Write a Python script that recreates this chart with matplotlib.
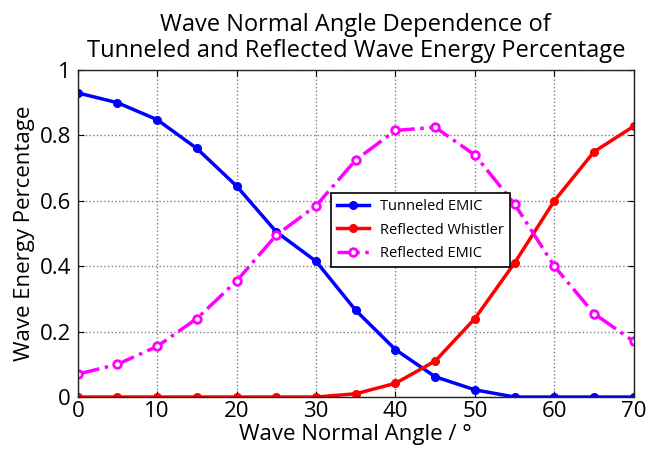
import matplotlib.pyplot as plt

plt.rcParams['font.family'] = ['Open Sans', 'DejaVu Sans']

# wave normal angle in degrees
angle = [0, 5, 10, 15, 20, 25, 30, 35, 40, 45, 50, 55, 60, 65, 70]
tunneled_emic = [0.93, 0.90, 0.848, 0.76, 0.645, 0.505, 0.415, 0.265,
                 0.145, 0.062, 0.022, 0.0, 0.0, 0.0, 0.0]
reflected_whistler = [0.0, 0.0, 0.0, 0.0, 0.0, 0.0, 0.0, 0.01,
                      0.042, 0.11, 0.24, 0.41, 0.60, 0.75, 0.828]
reflected_emic = [0.07, 0.10, 0.155, 0.24, 0.355, 0.495, 0.585, 0.725,
                  0.815, 0.825, 0.74, 0.59, 0.40, 0.255, 0.17]

fig = plt.figure(figsize=(6.48, 4.59), dpi=100)
ax = fig.add_axes([0.120, 0.135, 0.858, 0.7125])

ax.plot(angle, tunneled_emic, '-o', color='blue', lw=2.5, ms=5.5,
        label='Tunneled EMIC')
ax.plot(angle, reflected_whistler, '-o', color='red', lw=2.5, ms=5.5,
        label='Reflected Whistler')
ax.plot(angle, reflected_emic, '-.o', color='magenta', lw=2.5, ms=5.5,
        mfc='white', mew=2, label='Reflected EMIC')

ax.set_xlim(0, 70)
ax.set_ylim(0, 1)
ax.set_xticks(range(0, 71, 10))
ax.set_yticks([0, 0.2, 0.4, 0.6, 0.8, 1])
ax.set_yticklabels(['0', '0.2', '0.4', '0.6', '0.8', '1'])
ax.tick_params(direction='in', labelsize=16, top=True, right=True,
               length=4)
ax.tick_params(axis='x', pad=3)
ax.tick_params(axis='y', pad=5)
ax.grid(True, linestyle=':', color='gray', lw=1)
for s in ax.spines.values():
    s.set_linewidth(1)
    s.set_color('#222222')

ax.set_xlabel('Wave Normal Angle / °', fontsize=16, labelpad=1)
ax.set_ylabel('Wave Energy Percentage', fontsize=16, labelpad=3)
ax.set_title('Wave Normal Angle Dependence of\n'
             'Tunneled and Reflected Wave Energy Percentage',
             fontsize=17, pad=9, linespacing=1.15)

leg = ax.legend(loc='upper left', bbox_to_anchor=(0.455, 0.624),
                borderaxespad=0, fontsize=10.5, fancybox=False,
                framealpha=1, edgecolor='black', handlelength=2.2,
                labelspacing=0.6)
leg.get_frame().set_linewidth(1.2)

fig.savefig('out.png', dpi=100)
